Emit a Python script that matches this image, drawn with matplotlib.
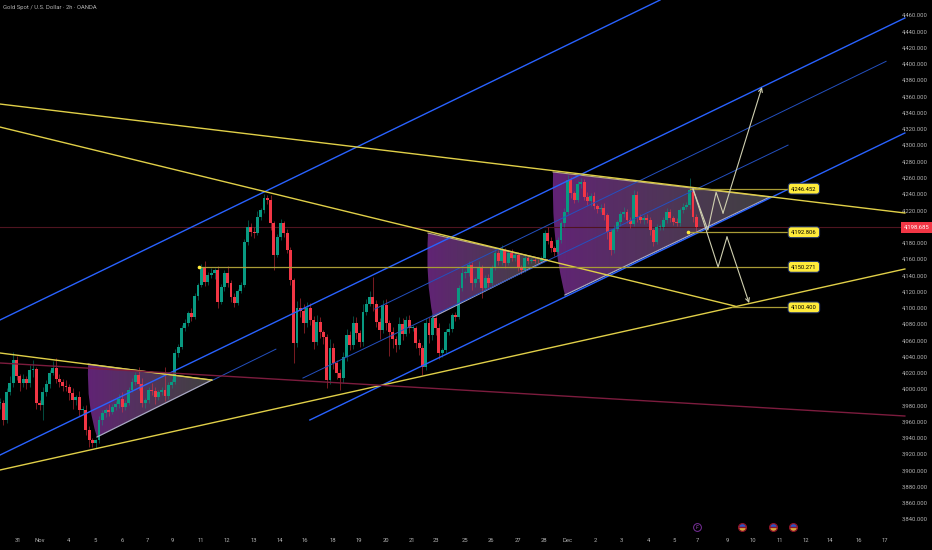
import matplotlib
matplotlib.use("Agg")
import numpy as np
import matplotlib.pyplot as plt
from matplotlib.path import Path
from matplotlib.patches import PathPatch

plt.rcParams['font.family'] = ['Roboto', 'DejaVu Sans']

# 2h closes
closes = [
    3983, 3962, 3996, 4008, 4036, 4016, 4007, 4012, 4007, 4023,
    4024, 3983, 3980, 3996, 4006, 4020, 4026, 4012, 4009, 4004,
    4002, 3995, 3986, 3990, 3974, 3974, 3950, 3937, 3933, 3937,
    3962, 3970, 3974, 3972, 3978, 3982, 3988, 3978, 3983, 3999,
    4009, 4017, 4006, 3983, 3986, 3999, 3997, 3990, 3996, 3999,
    3991, 4005, 4009, 4044, 4052, 4075, 4081, 4093, 4089, 4114,
    4128, 4149, 4132, 4140, 4143, 4146, 4107, 4125, 4143, 4130,
    4113, 4106, 4120, 4128, 4181, 4199, 4193, 4192, 4212, 4220,
    4235, 4233, 4204, 4165, 4187, 4204, 4192, 4171, 4134, 4056,
    4100, 4096, 4081, 4100, 4085, 4058, 4083, 4070, 4064, 4011,
    4050, 4032, 4020, 4013, 4039, 4066, 4054, 4081, 4069, 4058,
    4095, 4105, 4113, 4105, 4083, 4073, 4103, 4081, 4070, 4062,
    4054, 4080, 4068, 4085, 4075, 4075, 4057, 4050, 4027, 4081,
    4066, 4087, 4075, 4044, 4048, 4070, 4074, 4091, 4089, 4124,
    4143, 4143, 4152, 4130, 4135, 4149, 4124, 4137, 4131, 4149,
    4167, 4157, 4171, 4155, 4167, 4161, 4165, 4150, 4146, 4161,
    4157, 4159, 4158, 4157, 4161, 4192, 4182, 4173, 4169, 4183,
    4204, 4218, 4257, 4241, 4233, 4252, 4255, 4236, 4231, 4237,
    4225, 4221, 4223, 4214, 4193, 4171, 4197, 4205, 4215, 4218,
    4208, 4203, 4239, 4212, 4208, 4210, 4208, 4195, 4181, 4199,
    4199, 4208, 4218, 4210, 4206, 4204, 4220, 4224, 4226, 4245,
    4212, 4198.685,
]
upper_wick = [
    6, 4, 5, 8, 9, 5, 3, 6, 4, 7,
    12, 3, 4, 6, 5, 3, 8, 12, 6, 3,
    7, 4, 6, 3, 8, 5, 6, 4, 3, 2,
    5, 4, 3, 7, 4, 3, 6, 8, 4, 3,
    5, 4, 10, 7, 3, 4, 8, 5, 3, 4,
    28, 4, 3, 5, 3, 4, 5, 3, 7, 4,
    3, 5, 9, 4, 6, 3, 5, 4, 3, 8,
    4, 5, 3, 4, 3, 9, 5, 6, 7, 3,
    5, 4, 6, 3, 4, 5, 3, 5, 4, 3,
    8, 12, 9, 7, 6, 5, 8, 6, 3, 4,
    12, 6, 4, 5, 6, 8, 5, 9, 7, 4,
    10, 6, 8, 25, 5, 4, 7, 8, 4, 6,
    3, 9, 7, 5, 6, 4, 3, 5, 4, 6,
    8, 5, 4, 6, 3, 4, 7, 3, 4, 4,
    6, 3, 5, 4, 3, 8, 4, 3, 4, 4,
    5, 4, 6, 3, 4, 5, 3, 3, 2, 4,
    3, 2, 3, 2, 3, 4, 7, 5, 3, 4,
    3, 5, 6, 4, 3, 4, 5, 3, 6, 4,
    5, 3, 4, 6, 3, 4, 5, 3, 4, 6,
    4, 3, 6, 5, 3, 4, 5, 3, 3, 4,
    4, 3, 5, 4, 3, 4, 3, 5, 4, 15,
    3, 3,
]
lower_wick = [
    8, 6, 4, 3, 6, 5, 9, 4, 7, 5,
    8, 7, 6, 18, 4, 5, 3, 4, 6, 7,
    5, 8, 10, 6, 7, 5, 6, 8, 4, 5,
    3, 6, 4, 5, 3, 4, 5, 6, 4, 3,
    3, 4, 7, 5, 6, 3, 4, 8, 4, 3,
    6, 3, 4, 3, 5, 3, 4, 3, 5, 3,
    4, 3, 5, 4, 3, 8, 7, 3, 4, 5,
    6, 5, 3, 2, 3, 4, 5, 6, 3, 4,
    3, 5, 8, 19, 3, 4, 5, 4, 6, 24,
    4, 8, 12, 5, 6, 9, 4, 7, 9, 10,
    5, 7, 8, 14, 5, 4, 6, 5, 8, 6,
    5, 4, 3, 9, 7, 11, 4, 8, 30, 12,
    9, 5, 8, 3, 6, 4, 7, 8, 10, 4,
    9, 6, 8, 7, 5, 4, 3, 4, 5, 3,
    3, 6, 4, 8, 5, 3, 12, 4, 6, 3,
    3, 5, 4, 6, 3, 4, 3, 5, 4, 2,
    3, 2, 3, 2, 2, 3, 4, 5, 6, 3,
    4, 5, 3, 6, 4, 3, 5, 4, 5, 6,
    4, 5, 3, 6, 8, 6, 4, 3, 5, 3,
    4, 5, 3, 6, 4, 5, 4, 6, 5, 3,
    4, 3, 4, 5, 4, 3, 4, 3, 3, 4,
    6, 4,
]

price_ticks = [p for p in range(3840, 4480, 20) if p != 4200]
day_pos = [5.5, 12.1, 20.9, 28.8, 37, 44.8, 52.1, 60.9, 68.8, 77, 84.8, 92.4,
           100.9, 108.8, 117, 124.8, 132.1, 140.9, 148.8, 157, 164.8, 172.1,
           180.3, 188.2, 196.4, 204.2, 211.5, 220.3, 228.2, 236.4, 244.2,
           251.5, 260.3, 268.2]
day_labels = ['31', 'Nov', '4', '5', '6', '7', '9', '11', '12', '13', '14', '16',
              '18', '19', '20', '21', '23', '25', '26', '27', '28', 'Dec',
              '2', '3', '4', '5', '7', '9', '10', '11', '12', '14', '16', '17']

# drawings: (bar, price) end points
yellow_lines = [((0, 4350.5), (274.2, 4216.5)),
                ((0, 4322.2), (222.7, 4102)),
                ((0, 3900.4), (274.2, 4147.6)),
                ((0, 4044.3), (64.2, 4011))]
blue_lines = [((0, 4084.9), (200, 4478.4)),
              ((0, 3918.8), (274.2, 4456.3)),
              ((93.9, 3961.9), (274.2, 4314.9))]
thin_blue_lines = [((64.5, 4011), (83.6, 4049)),
                   ((91.8, 4013.5), (238.8, 4300)),
                   ((113.6, 4098.4), (268.5, 4403))]
red_line = ((0, 4032), (274.2, 3966.8))
last_price = 4198.685

levels = [4246.452, 4192.806, 4150.271, 4100.400]
level_start = [209.1, 208.5, 60.3, 221.8]
level_end = 239.4

# wedges: arc start, arc control, arc end, apex
wedges = [((26.7, 4030.7), (26.2, 3979.7), (29.4, 3941), (64.2, 4011)),
          ((129.7, 4191.8), (128.9, 4135.3), (131.2, 4088.5), (165.8, 4158.7)),
          ((167.6, 4266.9), (167, 4183.3), (171.2, 4115.6), (233.3, 4236.1))]

up_path_x = [210, 214.5, 217, 219.1, 230.9]
up_path_y = [4246, 4195.5, 4242, 4216.4, 4371.4]
down_path_x = [210, 217.6, 220.3, 227]
down_path_y = [4246, 4150, 4187, 4105.7]

flag_events = [224.8, 234.2, 240.3]
earnings_event = 211.2
event_price = 3830

BG = '#000000'
GREEN = '#089981'
RED = '#f23645'
YELLOW = '#e0cf48'
BLUE = '#2962ff'
TEXT = '#b4b4b4'
PALE = '#cfcfb0'

fig = plt.figure(figsize=(9.32, 5.5), dpi=100, facecolor=BG)
ax = fig.add_axes([0, 0, 1, 1], facecolor=BG)
xmax = 932 / 3.3
ymin, ymax = 3802, 4478.45

# wedges with the purple to grey fade
for start, ctrl, end, apex in wedges:
    path = Path([start, ctrl, end, apex, start],
                [Path.MOVETO, Path.CURVE3, Path.CURVE3, Path.LINETO, Path.CLOSEPOLY])
    grad = np.zeros((1, 128, 4))
    t = np.linspace(0, 1, 128)
    grad[0, :, 0] = (112 + (96 - 112) * t) / 255
    grad[0, :, 1] = (40 + (96 - 40) * t) / 255
    grad[0, :, 2] = (135 + (96 - 135) * t) / 255
    grad[0, :, 3] = 0.88 - 0.2 * t
    im = ax.imshow(grad, extent=(min(start[0], ctrl[0]), apex[0], ymin, ymax),
                   aspect='auto', zorder=1, interpolation='bilinear')
    im.set_clip_path(PathPatch(path, transform=ax.transData))
    ax.plot([end[0], apex[0]], [end[1], apex[1]], color='#a9a9c4', lw=0.9, zorder=4)
    ax.plot([start[0], apex[0]], [start[1], apex[1]], color='#b8a98a', lw=0.8, zorder=4)

# candles
bars = np.arange(len(closes))
c = np.array(closes, dtype=float)
o = np.r_[c[0], c[:-1]]
top = np.maximum(o, c)
bot = np.minimum(o, c)
cols = [GREEN if b >= a else RED for a, b in zip(o, c)]
ax.vlines(bars, bot - np.array(lower_wick), top + np.array(upper_wick),
          colors=cols, lw=0.5, alpha=0.7, zorder=2)
ax.bar(bars, np.maximum(top - bot, 1), bottom=bot, width=0.85, color=cols,
       linewidth=0, zorder=3)

# trend lines
for a, b in blue_lines:
    ax.plot([a[0], b[0]], [a[1], b[1]], color=BLUE, lw=1.0, zorder=5)
for a, b in thin_blue_lines:
    ax.plot([a[0], b[0]], [a[1], b[1]], color='#2450c0', lw=0.7, zorder=5)
for a, b in yellow_lines:
    ax.plot([a[0], b[0]], [a[1], b[1]], color=YELLOW, lw=1.0, zorder=5)
ax.plot([red_line[0][0], red_line[1][0]], [red_line[0][1], red_line[1][1]],
        color='#7c1c3e', lw=1.0, zorder=5)
ax.axhline(last_price, xmax=0.972, color='#4f1420', lw=0.8, zorder=1.5)

# horizontal levels and their tags
for lev, x0 in zip(levels, level_start):
    ax.plot([x0, level_end], [lev, lev], color='#a99c36', lw=0.9, zorder=5)
    ax.text(level_end + 4.2, lev, f'{lev:,.3f}', fontsize=4.2, color='black',
            ha='center', va='center', zorder=8,
            bbox=dict(boxstyle='round,pad=0.5', fc='#ffeb3b', ec='#1c2f6e', lw=0.7))
ax.plot([level_start[1], level_start[2]], [levels[1], levels[2]], ls='',
        marker='o', ms=1.6, color='#ffeb3b', zorder=6)

# projected paths
ax.plot(up_path_x[:-1], up_path_y[:-1], color=PALE, lw=0.8, zorder=6)
ax.plot(down_path_x[:-1], down_path_y[:-1], color=PALE, lw=0.8, zorder=6)
for xs, ys in ((up_path_x, up_path_y), (down_path_x, down_path_y)):
    ax.annotate('', xy=(xs[-1], ys[-1]), xytext=(xs[-2], ys[-2]), zorder=6,
                arrowprops=dict(arrowstyle='->', color=PALE, lw=0.8,
                                mutation_scale=7, shrinkA=0, shrinkB=0))

# calendar events
ax.plot(flag_events, [event_price] * 3, ls='', marker='o', ms=5.6, fillstyle='top',
        markerfacecolor='#2a55c8', markerfacecoloralt='#d6a93a',
        markeredgecolor='#8f1426', markeredgewidth=0.9, zorder=7)
ax.plot([earnings_event], [event_price], ls='', marker='o', ms=5.6,
        markerfacecolor=BG, markeredgecolor='#7b2f9e', markeredgewidth=0.7, zorder=7)
ax.text(earnings_event, event_price, 'F', color='#9a4fc0', fontsize=3.6,
        ha='center', va='center', style='italic', zorder=8)

# axes
ax.set_xlim(0, xmax)
ax.set_ylim(ymin, ymax)
ax.yaxis.tick_right()
ax.set_yticks(price_ticks)
ax.set_yticklabels([f'{p:,.3f}' for p in price_ticks])
ax.set_xticks(day_pos)
ax.set_xticklabels(day_labels)
ax.tick_params(axis='y', length=0, pad=-21.5, labelsize=4.2, labelcolor=TEXT)
ax.tick_params(axis='x', length=0, pad=-8.5, labelsize=4.2, labelcolor=TEXT)
for s in ax.spines.values():
    s.set_visible(False)

ax.text(0.003, 0.9855, 'Gold Spot / U.S. Dollar · 2h · OANDA', transform=ax.transAxes,
        fontsize=4.2, color=TEXT, ha='left', va='center')
ax.annotate(f'{last_price:,.3f}', xy=(0.9835, last_price),
            xycoords=ax.get_yaxis_transform(), fontsize=4.2, color='white',
            ha='center', va='center', zorder=9,
            bbox=dict(boxstyle='square,pad=0.5', fc=RED, ec='none'))

fig.savefig('out.png', dpi=100, facecolor=BG)
